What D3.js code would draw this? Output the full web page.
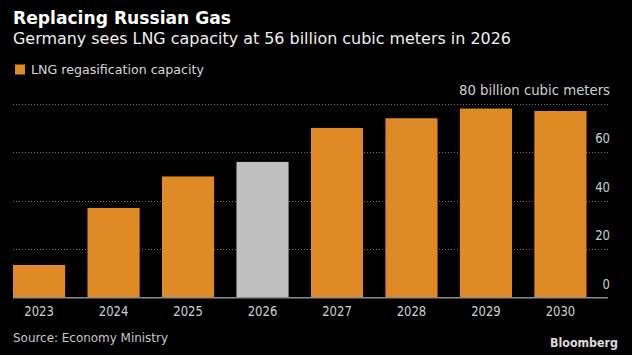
<!DOCTYPE html>
<html>
<head>
<meta charset="utf-8">
<script src="https://cdn.jsdelivr.net/npm/d3@7"></script>
<style>
  html, body { margin: 0; padding: 0; background: #000; }
  svg { display: block; }
  text { font-family: "Liberation Sans Narrow", "DejaVu Sans Condensed", "Roboto", sans-serif; }
</style>
</head>
<body>
<svg id="chart" width="632" height="355"></svg>
<script>
const years = ["2023", "2024", "2025", "2026", "2027", "2028", "2029", "2030"];
const capacity = [13.5, 37, 50, 56, 70, 74, 78, 77];
const highlightYear = "2026";
const yTicks = [0, 20, 40, 60, 80];
const title = "Replacing Russian Gas";
const subtitle = "Germany sees LNG capacity at 56 billion cubic meters in 2026";
const legendLabel = "LNG regasification capacity";
const unitLabel = "billion cubic meters";
const source = "Source: Economy Ministry";

const W = 632, H = 355;
const svg = d3.select("#chart");
svg.append("rect").attr("width", W).attr("height", H).attr("fill", "#000");

const ORANGE = "#dd8a27", GREY = "#c0c0c0";
const plotLeft = 13, barsRight = 586.5, gridRight = 608;
const y = d3.scaleLinear().domain([0, 80]).range([297.7, 103.7]);
const x = d3.scaleBand().domain(years).range([plotLeft, barsRight]).paddingInner(0.3).paddingOuter(0);

function fit(sel, w) {
  sel.attr("textLength", w).attr("lengthAdjust", "spacingAndGlyphs");
  return sel;
}
const DIGIT_W = 7.4;

// gridlines
svg.append("g").selectAll("line").data(yTicks.filter(d => d > 0)).join("line")
  .attr("x1", plotLeft).attr("x2", gridRight)
  .attr("y1", d => Math.round(y(d)) + 0.5).attr("y2", d => Math.round(y(d)) + 0.5)
  .attr("stroke", "#777").attr("stroke-width", 1).attr("stroke-dasharray", "1,2");

// bars
svg.append("g").selectAll("rect").data(years).join("rect")
  .attr("x", d => x(d)).attr("width", x.bandwidth())
  .attr("y", (d, i) => y(capacity[i])).attr("height", (d, i) => y(0) - y(capacity[i]))
  .attr("fill", d => d === highlightYear ? GREY : ORANGE);

// baseline
svg.append("line").attr("x1", plotLeft).attr("x2", gridRight)
  .attr("y1", y(0)).attr("y2", y(0)).attr("stroke", "#8a8a8a").attr("stroke-width", 1.5);

// y labels
const yAxis = d3.axisRight(y).tickValues(yTicks).tickSize(0).tickPadding(0)
  .tickFormat(d => d === 80 ? "80 " + unitLabel : String(d));
const yg = svg.append("g").attr("transform", `translate(${gridRight + 2},0)`).call(yAxis);
yg.select(".domain").remove();
yg.selectAll("text").attr("text-anchor", "end").attr("dy", -9.5).attr("x", 0)
  .attr("fill", "#d0d0d0").style("font-size", "13.5px")
  .each(function(d) {
    fit(d3.select(this), d === 80 ? 151 : String(d).length * DIGIT_W);
  });

// x labels
const xAxis = d3.axisBottom(x).tickSize(0).tickPadding(0);
const xg = svg.append("g").attr("transform", `translate(0,316)`).call(xAxis);
xg.select(".domain").remove();
xg.selectAll("text").attr("dy", 0).attr("y", 0).attr("fill", "#d0d0d0").style("font-size", "13.5px")
  .each(function(d) { fit(d3.select(this), d.length * DIGIT_W); });

// titles
fit(svg.append("text").attr("x", 13).attr("y", 24).text(title)
  .attr("fill", "#fff").style("font-size", "17.5px").style("font-weight", "bold"), 218);
fit(svg.append("text").attr("x", 13).attr("y", 44.3).text(subtitle)
  .attr("fill", "#f0f0f0").style("font-size", "16px"), 498);

// legend
svg.append("rect").attr("x", 15).attr("y", 64.5).attr("width", 10).attr("height", 10).attr("fill", ORANGE);
fit(svg.append("text").attr("x", 31).attr("y", 74).text(legendLabel)
  .attr("fill", "#d8d8d8").style("font-size", "13px"), 173);

// source
fit(svg.append("text").attr("x", 13).attr("y", 341.7).text(source)
  .attr("fill", "#c8c8c8").style("font-size", "13px"), 155);
fit(svg.append("text").attr("x", 618).attr("y", 346.7).attr("text-anchor", "end").text("Bloomberg")
  .attr("fill", "#dcdcdc").style("font-size", "13px").style("font-weight", "bold"), 68);
</script>
</body>
</html>
